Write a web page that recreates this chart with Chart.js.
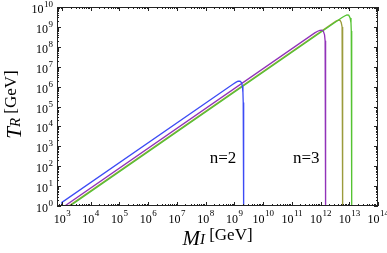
<!DOCTYPE html>
<html>
<head>
<meta charset="utf-8">
<script src="https://cdn.jsdelivr.net/npm/chart.js@4"></script>
<style>
  html, body { margin: 0; padding: 0; background: #fff; }
  #chart { display: block; }
</style>
</head>
<body>
<canvas id="chart" width="387" height="253"></canvas>
<script>
// curves, as log10 values (M_I on x, T_R on y)
const blueLogM   = [3.0, 3.0, 8.95, 9.05, 9.13, 9.20, 9.25, 9.28, 9.30, 9.31, 9.32, 9.33];
const blueLogT   = [-0.5, 0.18, 6.12, 6.21, 6.27, 6.27, 6.20, 6.02, 5.70, 5.20, 4.00, -0.5];
const purpleLogM = [3.0, 11.8, 11.9, 11.98, 12.05, 12.10, 12.14, 12.16, 12.17, 12.18, 12.18];
const purpleLogT = [-0.1, 8.70, 8.78, 8.83, 8.84, 8.78, 8.60, 8.30, 7.80, 6.50, -0.5];
const oliveLogM  = [3.1, 12.45, 12.54, 12.62, 12.68, 12.72, 12.75, 12.76, 12.77, 12.78];
const oliveLogT  = [-0.14, 9.21, 9.29, 9.34, 9.33, 9.22, 9.00, 8.60, 7.80, -0.5];
const greenLogM  = [3.1, 12.75, 12.84, 12.92, 12.98, 13.03, 13.06, 13.07, 13.08, 13.09];
const greenLogT  = [-0.18, 9.47, 9.55, 9.60, 9.59, 9.45, 9.20, 8.80, 8.00, -0.5];

const xTickExp = [3, 4, 5, 6, 7, 8, 9, 10, 11, 12, 13, 14];
const yTickExp = [0, 1, 2, 3, 4, 5, 6, 7, 8, 9, 10];
const xMinExp = 2.83, xMaxExp = 14;
const yMinExp = 0, yMaxExp = 10;

const curveLabels = [
  { text: 'n=2', m: 1.4e8, t: 145 },
  { text: 'n=3', m: 1.1e11, t: 145 }
];

const SERIF = '"Liberation Serif", "DejaVu Serif", serif';

function toPoints(logM, logT) {
  return logM.map((v, i) => ({ x: Math.pow(10, v), y: Math.pow(10, logT[i]) }));
}

function line(label, logM, logT, color) {
  return {
    label,
    data: toPoints(logM, logT),
    borderColor: color,
    borderWidth: 1.3,
    pointRadius: 0,
    showLine: true,
    tension: 0,
    fill: false
  };
}

// frame with inward ticks on all four sides, Mathematica style
const framePlugin = {
  id: 'frame',
  afterDraw(chart) {
    const { ctx, chartArea: a, scales } = chart;
    const xs = scales.x, ys = scales.y;
    ctx.save();
    ctx.strokeStyle = '#222';
    ctx.lineWidth = 1;
    ctx.strokeRect(a.left + 0.5, a.top + 0.5, a.right - a.left - 1, a.bottom - a.top - 1);

    ctx.beginPath();
    for (let e = Math.floor(xMinExp); e <= xMaxExp; e++) {
      for (let k = 1; k <= 9; k++) {
        const v = k * Math.pow(10, e);
        if (v < Math.pow(10, xMinExp) || v > Math.pow(10, xMaxExp)) continue;
        const px = Math.round(xs.getPixelForValue(v)) + 0.5;
        const len = k === 1 ? 4 : 2;
        ctx.moveTo(px, a.bottom); ctx.lineTo(px, a.bottom - len);
        ctx.moveTo(px, a.top); ctx.lineTo(px, a.top + len);
      }
    }
    for (let e = yMinExp; e <= yMaxExp; e++) {
      for (let k = 1; k <= 9; k++) {
        const v = k * Math.pow(10, e);
        if (v > Math.pow(10, yMaxExp)) continue;
        const py = Math.round(ys.getPixelForValue(v)) + 0.5;
        const len = k === 1 ? 4 : 2;
        ctx.moveTo(a.left, py); ctx.lineTo(a.left + len, py);
        ctx.moveTo(a.right, py); ctx.lineTo(a.right - len, py);
      }
    }
    ctx.stroke();

    // tick labels: "10" with a raised exponent
    const fBase = '12px ' + SERIF, fExp = '9px ' + SERIF;
    ctx.fillStyle = '#000';
    ctx.textBaseline = 'alphabetic';
    xTickExp.forEach(e => {
      const px = xs.getPixelForValue(Math.pow(10, e));
      ctx.font = fBase;
      const wb = ctx.measureText('10').width;
      ctx.font = fExp;
      const we = ctx.measureText(String(e)).width;
      const x0 = px - (wb + we) / 2;
      ctx.textAlign = 'left';
      ctx.font = fBase;
      ctx.fillText('10', x0, a.bottom + 17);
      ctx.font = fExp;
      ctx.fillText(String(e), x0 + wb + 0.5, a.bottom + 10);
    });
    yTickExp.forEach(e => {
      const py = ys.getPixelForValue(Math.pow(10, e));
      ctx.font = fExp;
      const we = ctx.measureText(String(e)).width;
      const xr = a.left - 4;
      ctx.textAlign = 'right';
      ctx.fillText(String(e), xr, py);
      ctx.font = fBase;
      ctx.fillText('10', xr - we - 0.5, py + 6);
    });

    // curve labels
    ctx.font = '17px ' + SERIF;
    ctx.textAlign = 'left';
    curveLabels.forEach(l => {
      ctx.fillText(l.text, xs.getPixelForValue(l.m), ys.getPixelForValue(l.t));
    });

    // axis titles
    const cx = (a.left + a.right) / 2;
    drawTitle(ctx, 'M', 'I', cx, 245);
    ctx.save();
    ctx.translate(21, (a.top + a.bottom) / 2 - 2);
    ctx.rotate(-Math.PI / 2);
    drawTitle(ctx, 'T', 'R', 0, 0);
    ctx.restore();

    ctx.restore();
  }
};

function drawTitle(ctx, main, sub, cx, baseline) {
  const fMain = 'italic 21px ' + SERIF;
  const fSub = 'italic 15px ' + SERIF;
  const fUnit = '17px ' + SERIF;
  ctx.font = fMain; const w1 = ctx.measureText(main).width;
  ctx.font = fSub; const w2 = ctx.measureText(sub).width;
  ctx.font = fUnit; const w3 = ctx.measureText(' [GeV]').width;
  let x = cx - (w1 + w2 + w3) / 2;
  ctx.textAlign = 'left';
  ctx.font = fMain; ctx.fillText(main, x, baseline); x += w1;
  ctx.font = fSub; ctx.fillText(sub, x, baseline - 1); x += w2;
  ctx.font = fUnit; ctx.fillText(' [GeV]', x, baseline - 5);
}

new Chart(document.getElementById('chart'), {
  type: 'scatter',
  data: {
    datasets: [
      line('n=2', blueLogM, blueLogT, 'rgb(60,75,245)'),
      line('n=3 a', purpleLogM, purpleLogT, 'rgb(145,50,185)'),
      line('n=3 c', greenLogM, greenLogT, 'rgb(85,195,50)'),
      line('n=3 b', oliveLogM, oliveLogT, 'rgb(155,155,60)')
    ]
  },
  options: {
    responsive: false,
    animation: false,
    devicePixelRatio: 1,
    layout: { padding: { left: 57, right: 9, top: 7, bottom: 47 } },
    plugins: { legend: { display: false }, tooltip: { enabled: false } },
    scales: {
      x: { type: 'logarithmic', display: false, min: Math.pow(10, xMinExp), max: Math.pow(10, xMaxExp) },
      y: { type: 'logarithmic', display: false, min: Math.pow(10, yMinExp), max: Math.pow(10, yMaxExp) }
    }
  },
  plugins: [framePlugin]
});
</script>
</body>
</html>
